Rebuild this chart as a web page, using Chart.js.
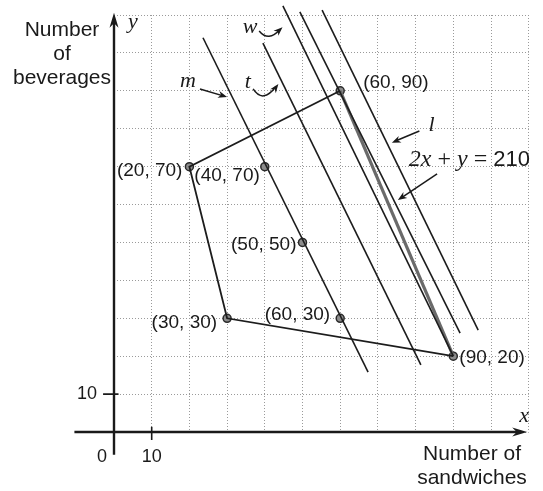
<!DOCTYPE html>
<html>
<head>
<meta charset="utf-8">
<script src="https://cdn.jsdelivr.net/npm/chart.js@4/dist/chart.umd.min.js"></script>
<style>
html,body{margin:0;padding:0;background:#fff;}
canvas{display:block;}
</style>
</head>
<body>
<canvas id="c" width="543" height="491"></canvas>
<script>
// ---- Data ----
// Vertices of the feasible region
const vertexLabels = ['(20, 70)', '(60, 90)', '(90, 20)', '(30, 30)'];
const vertexX = [20, 60, 90, 30];
const vertexY = [70, 90, 20, 30];
// Points marked on line m
const testLabels = ['(40, 70)', '(50, 50)', '(60, 30)'];
const testX = [40, 50, 60];
const testY = [70, 50, 30];
// Parallel lines of the form 2x + y = c (end points as read)
const lineNames = ['m', 't', 'w', '2x + y = 210', 'l'];
const lineStartX = [23.6, 39.5, 44.8, 49.3, 55.2];
const lineStartY = [104, 102.6, 112.4, 110.8, 111.3];
const lineEndX = [67.4, 81.4, 90, 91.8, 96.6];
const lineEndY = [15.8, 17.7, 20, 26.1, 26.9];
// Grid / ticks
const gridValues = [0, 10, 20, 30, 40, 50, 60, 70, 80, 90, 100, 110];
const xTickLabels = ['10'];
const xTickValues = [10];
const yTickLabels = ['10'];
const yTickValues = [10];
const xTitle = ['Number of', 'sandwiches'];
const yTitle = ['Number', 'of', 'beverages'];

// ---- Datasets ----
const pt = (x, y) => ({ x, y });
const blackEdge = [2, 3, 0, 1].map(i => pt(vertexX[i], vertexY[i]));
const grayEdge = [1, 2].map(i => pt(vertexX[i], vertexY[i]));

const datasets = [];
lineNames.forEach((n, i) => {
  datasets.push({
    label: n,
    data: [pt(lineStartX[i], lineStartY[i]), pt(lineEndX[i], lineEndY[i])],
    showLine: true, borderColor: '#1c1c1c', borderWidth: 1.6,
    pointRadius: 0, clip: false
  });
});
datasets.push({ label: 'edge', data: blackEdge, showLine: true, borderColor: '#1c1c1c', borderWidth: 1.8, pointRadius: 0, clip: false });
datasets.push({ label: 'edge2', data: grayEdge, showLine: true, borderColor: '#6a6a6a', borderWidth: 3.2, pointRadius: 0, clip: false });
datasets.push({
  label: 'points',
  data: vertexX.map((x, i) => pt(x, vertexY[i])).concat(testX.map((x, i) => pt(x, testY[i]))),
  showLine: false, pointRadius: 4, pointBackgroundColor: '#8c8c8c',
  pointBorderColor: '#2a2a2a', pointBorderWidth: 1.5, clip: false
});

const SANS = '"Liberation Sans", Arial, Helvetica, sans-serif';
const SERIF = '"Liberation Serif", "Times New Roman", serif';

function arrowHead(ctx, x1, y1, x2, y2, len, wid) {
  const a = Math.atan2(y2 - y1, x2 - x1);
  ctx.beginPath();
  ctx.moveTo(x2, y2);
  ctx.lineTo(x2 - len * Math.cos(a) + wid * Math.sin(a), y2 - len * Math.sin(a) - wid * Math.cos(a));
  ctx.lineTo(x2 - len * Math.cos(a) * 0.7, y2 - len * Math.sin(a) * 0.7);
  ctx.lineTo(x2 - len * Math.cos(a) - wid * Math.sin(a), y2 - len * Math.sin(a) + wid * Math.cos(a));
  ctx.closePath();
  ctx.fill();
}

const overlay = {
  id: 'overlay',
  afterDraw(chart) {
    const ctx = chart.ctx;
    const xs = chart.scales.x, ys = chart.scales.y;
    const X = v => xs.getPixelForValue(v);
    const Y = v => ys.getPixelForValue(v);
    ctx.save();
    ctx.strokeStyle = '#1a1a1a';
    ctx.fillStyle = '#1a1a1a';
    ctx.lineCap = 'butt';

    // axes
    ctx.lineWidth = 2.4;
    ctx.beginPath();
    ctx.moveTo(X(-10.5), Y(0)); ctx.lineTo(X(108), Y(0));
    ctx.moveTo(X(0), Y(-6)); ctx.lineTo(X(0), Y(108.5));
    ctx.stroke();
    arrowHead(ctx, X(100), Y(0), X(109.6), Y(0), 15, 4.5);
    arrowHead(ctx, X(0), Y(100), X(0), Y(110.6), 15, 4.5);

    // tick marks
    ctx.lineWidth = 1.6;
    ctx.beginPath();
    yTickValues.forEach(v => { ctx.moveTo(X(-2.9), Y(v)); ctx.lineTo(X(1.2), Y(v)); });
    xTickValues.forEach(v => { ctx.moveTo(X(v), Y(1.4)); ctx.lineTo(X(v), Y(-2.1)); });
    ctx.stroke();

    // tick labels
    ctx.font = '18px ' + SANS;
    ctx.textBaseline = 'middle';
    ctx.textAlign = 'right';
    yTickLabels.forEach((t, i) => ctx.fillText(t, X(-4.5), Y(yTickValues[i])));
    ctx.textAlign = 'center';
    xTickLabels.forEach((t, i) => ctx.fillText(t, X(xTickValues[i]), Y(0) + 25));
    ctx.fillText('0', X(0) - 12, Y(0) + 25);

    // axis titles
    ctx.font = '21px ' + SANS;
    ctx.textBaseline = 'alphabetic';
    ctx.textAlign = 'center';
    yTitle.forEach((t, i) => ctx.fillText(t, 62, 36 + i * 24));
    xTitle.forEach((t, i) => ctx.fillText(t, 472, Y(0) + 28 + i * 24));
    ctx.font = 'italic 22px ' + SERIF;
    ctx.textAlign = 'left';
    ctx.fillText('y', X(0) + 14, Y(110.5) + 15);
    ctx.fillText('x', X(107.5), Y(0) - 10);

    // point labels
    ctx.font = '19px ' + SANS;
    ctx.textBaseline = 'middle';
    const lab = (t, x, y, dx, dy, align) => { ctx.textAlign = align; ctx.fillText(t, X(x) + dx, Y(y) + dy); };
    const vOff = [[-7, 4, 'right'], [23, -8, 'left'], [6, 2, 'left'], [-10, 4, 'right']];
    vertexLabels.forEach((t, i) => lab(t, vertexX[i], vertexY[i], vOff[i][0], vOff[i][1], vOff[i][2]));
    const tOff = [[-5, 9, 'right'], [-6, 2, 'right'], [-10, -4, 'right']];
    testLabels.forEach((t, i) => lab(t, testX[i], testY[i], tOff[i][0], tOff[i][1], tOff[i][2]));

    // line annotations
    ctx.lineWidth = 1.5;
    // m
    ctx.font = 'italic 22px ' + SERIF;
    ctx.textAlign = 'center';
    ctx.fillText(lineNames[0], X(19.6), Y(92.6));
    ctx.beginPath(); ctx.moveTo(X(22.8), Y(90.5)); ctx.lineTo(X(29.2), Y(88.6)); ctx.stroke();
    arrowHead(ctx, X(22.8), Y(90.5), X(30.0), Y(88.4), 9, 3.5);
    // t
    ctx.fillText(lineNames[1], X(35.5), Y(92.3));
    ctx.beginPath(); ctx.moveTo(X(36.9), Y(90.5)); ctx.quadraticCurveTo(X(39.5), Y(86.5), X(43.0), Y(91.2)); ctx.stroke();
    arrowHead(ctx, X(41.0), Y(88.3), X(43.6), Y(91.8), 9, 3.5);
    // w
    ctx.fillText(lineNames[2], X(36.1), Y(106.9));
    ctx.beginPath(); ctx.moveTo(X(38.5), Y(105.8)); ctx.quadraticCurveTo(X(41.0), Y(102.8), X(44.0), Y(106.2)); ctx.stroke();
    arrowHead(ctx, X(42.0), Y(104.3), X(44.7), Y(106.8), 9, 3.5);
    // l
    ctx.fillText(lineNames[4], X(84.2), Y(81.0));
    ctx.beginPath(); ctx.moveTo(X(81.0), Y(79.4)); ctx.lineTo(X(74.5), Y(76.7)); ctx.stroke();
    arrowHead(ctx, X(81.0), Y(79.4), X(73.7), Y(76.3), 9, 3.5);
    // 2x + y = 210
    const bx = X(78.2), by = Y(71.8);
    let cx = bx;
    const seg = (t, f) => { ctx.font = f; ctx.textAlign = 'left'; ctx.fillText(t, cx, by); cx += ctx.measureText(t).width; };
    seg('2', 'italic 24px ' + SERIF);
    seg('x', 'italic 24px ' + SERIF);
    seg(' + ', '24px ' + SERIF);
    seg('y', 'italic 24px ' + SERIF);
    seg(' = ', '24px ' + SERIF);
    seg('210', '22px ' + SANS);
    ctx.beginPath(); ctx.moveTo(X(85.7), Y(68.1)); ctx.lineTo(X(76.0), Y(61.6)); ctx.stroke();
    arrowHead(ctx, X(85.7), Y(68.1), X(75.3), Y(61.2), 9, 3.5);

    ctx.restore();
  }
};

const chart = new Chart(document.getElementById('c').getContext('2d'), {
  type: 'scatter',
  data: { datasets },
  options: {
    responsive: false,
    animation: false,
    devicePixelRatio: 1,
    events: [],
    layout: { padding: { left: 114, right: 14.3, top: 15, bottom: 59 } },
    plugins: { legend: { display: false }, tooltip: { enabled: false } },
    scales: {
      x: {
        type: 'linear', min: 0, max: 110,
        afterBuildTicks: s => { s.ticks = gridValues.map(v => ({ value: v })); },
        ticks: { display: false },
        grid: { color: '#9a9a9a', lineWidth: 1, drawTicks: false },
        border: { display: false, dash: [1, 2] }
      },
      y: {
        type: 'linear', min: 0, max: 110,
        afterBuildTicks: s => { s.ticks = gridValues.map(v => ({ value: v })); },
        ticks: { display: false },
        grid: { color: '#9a9a9a', lineWidth: 1, drawTicks: false },
        border: { display: false, dash: [1, 2] }
      }
    }
  },
  plugins: [overlay]
});
</script>
</body>
</html>
